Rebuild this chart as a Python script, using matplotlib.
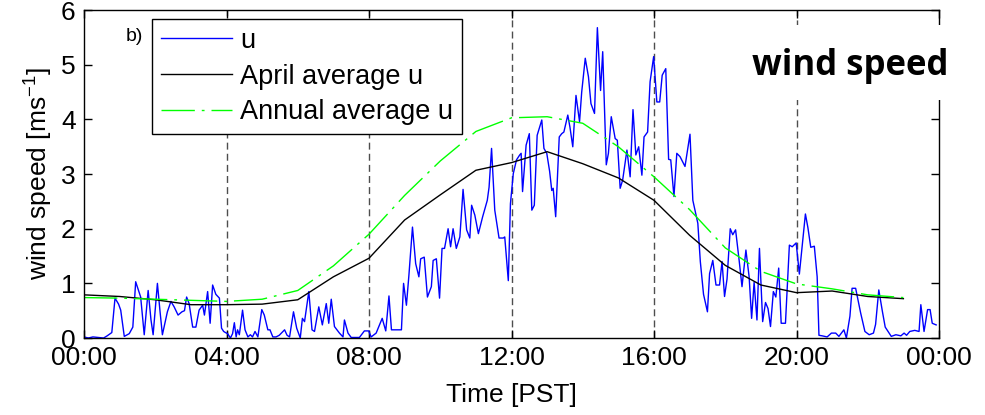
import matplotlib
matplotlib.use('Agg')
import matplotlib.pyplot as plt
from matplotlib.patches import Rectangle

plt.rcParams['font.family'] = ['Liberation Sans', 'DejaVu Sans']
plt.rcParams['mathtext.default'] = 'regular'

# 风速观测 u (时间: 小时, 数值: m/s)
u_hours = [0.00, 0.12, 0.25, 0.40, 0.55, 0.65, 0.78, 0.87, 0.97, 1.03, 1.13, 1.27, 1.37, 1.45, 1.59,
           1.69, 1.80, 1.88, 1.94, 2.06, 2.13, 2.20, 2.34, 2.44, 2.53, 2.64, 2.75, 2.82, 2.88, 2.95,
           3.05, 3.14, 3.23, 3.33, 3.38, 3.47, 3.54, 3.61, 3.70, 3.80, 3.86, 3.92, 3.97,
           4.03, 4.11, 4.17, 4.22, 4.27, 4.31, 4.36, 4.45, 4.52, 4.60, 4.67, 4.73, 4.80, 4.88, 4.99,
           5.06, 5.16, 5.22, 5.30, 5.39, 5.48, 5.63, 5.70, 5.77, 5.88, 5.97, 6.07, 6.13, 6.19, 6.31,
           6.40, 6.47, 6.59, 6.69, 6.80, 6.87, 6.94, 7.03, 7.17, 7.27, 7.31, 7.41, 7.50, 7.73, 7.87,
           7.99, 8.06, 8.20, 8.37, 8.47, 8.56, 8.63, 8.91, 8.97, 9.05, 9.12, 9.22, 9.31, 9.40, 9.45,
           9.55, 9.64, 9.75, 9.80, 9.89, 9.98, 10.05, 10.12, 10.22, 10.29, 10.36, 10.45, 10.55, 10.64,
           10.74, 10.83, 10.88, 10.97, 11.07, 11.19, 11.32, 11.37, 11.44, 11.53, 11.65, 11.77, 11.81,
           11.91, 11.97, 12.05, 12.14, 12.23, 12.27, 12.31, 12.41, 12.50, 12.57, 12.64, 12.72, 12.85,
           12.91, 12.99, 13.07, 13.13, 13.17, 13.24, 13.34, 13.41, 13.47, 13.58, 13.64, 13.72, 13.81,
           13.91, 13.97, 14.07, 14.16, 14.23, 14.33, 14.41, 14.50, 14.56, 14.66, 14.72, 14.80, 14.91,
           14.97, 15.05, 15.12, 15.24, 15.33, 15.41, 15.49, 15.57, 15.66, 15.72, 15.82, 15.89, 15.99,
           16.08, 16.16, 16.23, 16.33, 16.41, 16.47, 16.56, 16.64, 16.73, 16.87, 17.01, 17.09, 17.23,
           17.30, 17.39, 17.50, 17.56, 17.65, 17.74, 17.84, 17.91, 17.98, 18.05, 18.14, 18.21, 18.29,
           18.39, 18.47, 18.58, 18.67, 18.74, 18.81, 18.89, 18.96, 19.05, 19.13, 19.20, 19.27, 19.35,
           19.42, 19.50, 19.57, 19.69, 19.80, 19.88, 19.99, 20.08, 20.25, 20.32, 20.40, 20.50, 20.58,
           20.63, 20.72, 20.86, 20.98, 21.10, 21.19, 21.33, 21.40, 21.50, 21.56, 21.66, 21.80, 21.92,
           22.04, 22.16, 22.22, 22.31, 22.41, 22.49, 22.59, 22.66, 22.79, 22.93, 23.02, 23.09, 23.18,
           23.32, 23.44, 23.49, 23.58, 23.68, 23.75, 23.81, 23.92]
u_values = [0.02, 0.00, 0.02, 0.01, 0.00, 0.04, 0.10, 0.73, 0.62, 0.51, 0.03, 0.08, 0.20, 1.03, 0.75,
            0.06, 0.87, 0.33, 0.06, 1.00, 0.51, 0.06, 0.48, 0.67, 0.57, 0.42, 0.48, 0.50, 0.75, 0.63,
            0.20, 0.20, 0.51, 0.60, 0.42, 0.85, 0.27, 0.97, 0.80, 0.73, 0.18, 0.12, 0.10,
            0.08, 0.00, 0.08, 0.28, 0.02, 0.15, 0.06, 0.51, 0.15, 0.02, 0.06, 0.02, 0.12, 0.02, 0.52,
            0.42, 0.15, 0.15, 0.02, 0.02, 0.05, 0.15, 0.05, 0.02, 0.48, 0.18, 0.00, 0.36, 0.30, 0.85,
            0.15, 0.12, 0.57, 0.24, 0.63, 0.27, 0.71, 0.21, 0.09, 0.02, 0.33, 0.09, 0.01, 0.01, 0.13,
            0.13, 0.02, 0.09, 0.36, 0.13, 0.77, 0.15, 0.15, 1.00, 0.60, 1.15, 2.03, 1.36, 1.12, 1.45,
            1.48, 0.75, 0.94, 1.42, 1.45, 0.73, 1.64, 1.64, 2.00, 1.67, 2.00, 1.64, 1.85, 2.72,
            1.98, 1.83, 2.43, 2.25, 1.91, 2.22, 2.52, 2.76, 3.47, 2.34, 1.83, 1.83, 1.85,
            1.05, 2.46, 3.01, 3.26, 3.35, 3.38, 2.68, 3.53, 3.74, 2.34, 2.43, 3.71, 3.99,
            3.47, 3.38, 3.05, 2.70, 2.74, 2.22, 3.68, 3.74, 3.77, 4.08, 3.86, 3.50, 4.44,
            3.96, 4.50, 5.12, 4.78, 4.29, 4.11, 5.68, 4.53, 5.24, 3.17, 3.38, 4.05, 3.65,
            3.62, 2.74, 2.89, 3.44, 2.95, 4.18, 3.35, 3.50, 2.98, 3.68, 3.77, 4.69, 5.15,
            4.32, 4.32, 4.81, 4.93, 3.27, 3.26, 2.59, 3.38, 3.32, 3.14, 3.73, 2.52, 2.10,
            1.40, 0.80, 0.48, 1.18, 1.42, 0.97, 0.97, 1.40, 0.76, 1.08, 2.00, 1.89, 1.98,
            1.42, 0.94, 1.61, 1.12, 0.36, 1.02, 0.33, 1.64, 0.30, 0.65, 0.54, 0.21, 0.85,
            0.75, 1.28, 0.27, 0.27, 1.70, 1.67, 1.74, 1.17, 2.27, 2.02, 1.66, 1.68, 1.12,
            0.05, 0.04, 0.02, 0.09, 0.09, 0.03, 0.15, 0.00, 0.40, 0.91, 0.91, 0.46, 0.12,
            0.06, 0.09, 0.25, 0.88, 0.49, 0.20, 0.10, 0.03, 0.06, 0.04, 0.09, 0.05, 0.12,
            0.14, 0.12, 0.61, 0.12, 0.52, 0.52, 0.27, 0.24]

# 四月平均和年平均 (逐小时)
avg_hours = list(range(24))
april_avg = [0.79, 0.76, 0.70, 0.61, 0.61, 0.62, 0.70, 1.12, 1.46, 2.16, 2.62, 3.07,
             3.21, 3.41, 3.19, 2.93, 2.52, 1.88, 1.33, 0.97, 0.83, 0.86, 0.76, 0.72]
annual_avg = [0.74, 0.73, 0.71, 0.69, 0.67, 0.71, 0.87, 1.32, 1.90, 2.61, 3.24, 3.78,
              4.03, 4.05, 3.93, 3.50, 2.95, 2.35, 1.65, 1.22, 0.99, 0.90, 0.79, 0.74]

tick_hours = [0, 4, 8, 12, 16, 20, 24]
tick_labels = ['00:00', '04:00', '08:00', '12:00', '16:00', '20:00', '00:00']
marker_hours = [4, 8, 12, 16, 20]

fig = plt.figure(figsize=(9.85, 4.15), dpi=100)
ax = fig.add_axes([0.0853, 0.1855, 0.868, 0.790])

# 竖直虚线
for h in marker_hours:
    ax.axvline(h, color='0.3', linestyle=(0, (5, 3)), linewidth=1.0, zorder=1)

ax.plot(u_hours, u_values, color='#0000ff', linewidth=1.0, label='u', zorder=2)
ax.plot(avg_hours, april_avg, color='black', linewidth=1.0, label='April average u', zorder=2)
ax.plot(avg_hours, annual_avg, color='#00ff00', linewidth=1.0, linestyle=(0, (24, 5, 2, 5)),
        label='Annual average u', zorder=2)

ax.set_xlim(0, 24)
ax.set_ylim(0, 6)
ax.set_xticks(tick_hours)
ax.set_xticklabels(tick_labels)
ax.set_yticks(range(7))
ax.tick_params(direction='in', length=6, width=1, labelsize=19, top=True, right=True, pad=6)
for s in ax.spines.values():
    s.set_linewidth(1.0)

ax.set_xlabel('Time [PST]', fontsize=19, labelpad=9)
ax.set_ylabel('wind speed [ms$^{-1}$]', fontsize=19, labelpad=4)

leg = ax.legend(loc='upper left', bbox_to_anchor=(0.080, 0.973), fontsize=19.5, frameon=True,
                fancybox=False, edgecolor='black', framealpha=1, borderaxespad=0,
                handlelength=2.6, handletextpad=0.3, labelspacing=0.36, borderpad=0.33)
leg.get_frame().set_linewidth(1.0)

ax.text(0.049, 0.92, 'b)', transform=ax.transAxes, fontsize=14, va='center', ha='left')

# 右上角标题, 白底遮住边框
ax.add_patch(Rectangle((0.767, 0.726), 0.246, 0.228, transform=ax.transAxes,
                       facecolor='white', edgecolor='none', clip_on=False, zorder=3))
ax.text(0.896, 0.802, 'wind speed', transform=ax.transAxes, fontsize=25, fontweight='bold',
        family=['Open Sans', 'DejaVu Sans'], ha='center', va='baseline', zorder=4)

plt.savefig('out.png', dpi=100)
plt.close()
